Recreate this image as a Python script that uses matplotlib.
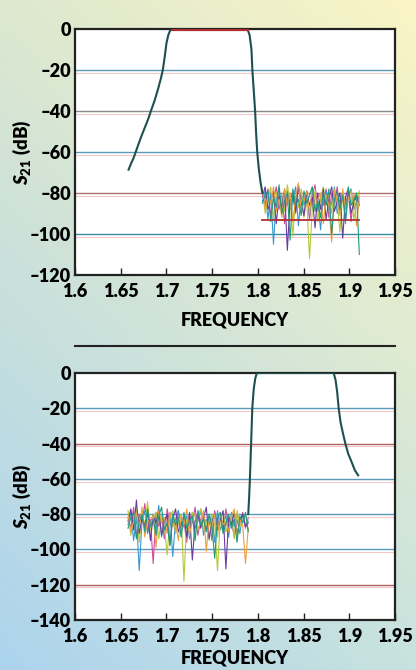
import numpy as np
import matplotlib
matplotlib.use('Agg')
import matplotlib.pyplot as plt
from matplotlib.lines import Line2D

plt.rcParams['font.family'] = ['Lato', 'DejaVu Sans']
plt.rcParams['font.weight'] = 'heavy'
plt.rcParams['mathtext.fontset'] = 'custom'
plt.rcParams['mathtext.rm'] = 'Lato:heavy'
plt.rcParams['mathtext.it'] = 'Lato:heavy:italic'
plt.rcParams['mathtext.bf'] = 'Lato:heavy'

########### data ###########
xticks = [1.6, 1.65, 1.7, 1.75, 1.8, 1.85, 1.9, 1.95]
xtick_labels = ['1.6', '1.65', '1.7', '1.75', '1.8', '1.85', '1.9', '1.95']

# top filter: passband 1.70-1.79 GHz
top_x = [1.6586, 1.661, 1.664, 1.668, 1.672, 1.676, 1.680, 1.683, 1.687, 1.691, 1.694,
         1.696, 1.698, 1.700, 1.702, 1.704, 1.707, 1.72, 1.74, 1.76, 1.78, 1.789,
         1.791, 1.793, 1.794, 1.7955, 1.797, 1.798, 1.7993, 1.801, 1.803, 1.805]
top_y = [-68.6, -66, -63, -58, -53, -48.5, -44, -40, -35, -29, -24,
         -20, -14, -7, -3, -0.8, 0, 0, 0, 0, 0, -0.5,
         -3, -10, -20, -30, -40, -50, -60, -68, -75, -80]
top_noise_span = [1.805, 1.911]
top_floor = -93.3
top_noise = [
    [-80, -86, -78, -91, -83, -77, -88, -81, -95, -79, -85, -82, -90, -77, -87, -84, -79, -93,
     -81, -76, -89, -83, -86, -78, -92, -80, -85, -77, -90, -82, -87, -79, -94, -81, -84, -80],
    [-84, -79, -93, -80, -105, -82, -78, -90, -85, -79, -88, -83, -77, -96, -81, -86, -80, -91,
     -78, -87, -84, -98, -82, -79, -89, -85, -77, -90, -83, -80, -95, -81, -78, -88, -84, -82],
    [-78, -90, -83, -77, -93, -80, -86, -82, -89, -76, -84, -101, -81, -87, -78, -92, -83, -112,
     -88, -79, -94, -82, -77, -86, -81, -90, -78, -84, -99, -80, -87, -82, -79, -93, -85, -79],
    [-82, -77, -88, -84, -79, -95, -81, -87, -78, -108, -83, -80, -89, -76, -85, -91, -79, -86,
     -82, -97, -80, -88, -78, -93, -83, -77, -89, -84, -80, -102, -82, -78, -90, -85, -81, -86],
    [-79, -88, -81, -85, -77, -89, -83, -92, -78, -86, -80, -94, -82, -75, -88, -84, -79, -90,
     -77, -87, -83, -80, -95, -81, -86, -104, -79, -84, -91, -78, -88, -82, -85, -80, -96, -83],
    [-85, -81, -79, -94, -82, -87, -76, -90, -84, -80, -103, -78, -86, -83, -91, -79, -85, -81,
     -77, -89, -84, -92, -80, -86, -78, -100, -83, -79, -88, -81, -93, -77, -86, -84, -80, -110],
]

# bottom filter: passband 1.80-1.885 GHz
bot_x = [1.7895, 1.7905, 1.7913, 1.7925, 1.7939, 1.7955, 1.7972, 1.7986, 1.800, 1.82, 1.84,
         1.86, 1.8829, 1.885, 1.8868, 1.8884, 1.8905, 1.8930, 1.8957, 1.899, 1.903, 1.906, 1.9097]
bot_y = [-80, -70, -60, -42, -20, -9, -3, -0.5, 0, 0, 0,
         0, 0, -4, -11, -20, -28, -34, -40, -46, -51, -55, -58]
bot_noise_span = [1.658, 1.7895]
bot_noise = [
    [-82, -88, -76, -93, -80, -85, -74, -90, -83, -108, -79, -87, -81, -94, -77, -86, -82, -91, -78, -88, -84, -96,
     -80, -85, -76, -92, -83, -79, -89, -81, -95, -78, -86, -82, -90, -77, -87, -84, -93, -80, -85, -79, -88, -82],
    [-86, -79, -95, -81, -112, -84, -78, -91, -85, -80, -89, -75, -93, -82, -87, -79, -104, -83, -78, -90, -86, -81,
     -94, -79, -88, -84, -77, -92, -83, -86, -80, -96, -78, -89, -85, -81, -93, -79, -87, -83, -91, -80, -86, -84],
    [-78, -92, -83, -77, -96, -80, -86, -73, -89, -84, -79, -94, -81, -87, -103, -82, -78, -91, -85, -80, -118, -83,
     -88, -79, -93, -82, -77, -89, -84, -95, -80, -86, -112, -83, -79, -90, -85, -81, -94, -78, -87, -83, -80, -89],
    [-84, -77, -89, -72, -91, -82, -87, -79, -95, -81, -85, -78, -92, -84, -80, -97, -83, -77, -90, -86, -81, -93,
     -79, -106, -84, -80, -88, -82, -76, -94, -85, -80, -89, -83, -78, -111, -82, -86, -79, -91, -84, -80, -87, -85],
    [-80, -90, -84, -79, -88, -76, -93, -83, -86, -80, -99, -78, -85, -82, -91, -79, -87, -84, -95, -81, -86, -77,
     -92, -83, -80, -89, -84, -78, -101, -82, -87, -80, -93, -79, -86, -84, -90, -81, -77, -94, -83, -86, -108, -88],
    [-88, -82, -79, -94, -84, -80, -90, -77, -87, -83, -92, -81, -76, -89, -85, -98, -80, -86, -82, -93, -79, -88,
     -84, -81, -95, -78, -86, -83, -90, -80, -87, -105, -82, -79, -91, -85, -80, -88, -83, -96, -81, -85, -79, -90],
]

noise_colors = ['#d04a9a', '#3a98d0', '#b5c83a', '#6a3aa0', '#e8a040', '#1f9a80']

########### figure ###########
fig = plt.figure(figsize=(4.16, 6.70), dpi=100)

# gradient background
bg = fig.add_axes([0, 0, 1, 1], zorder=-5)
tl = np.array([221, 232, 207]) / 255
tr = np.array([250, 245, 197]) / 255
bl = np.array([172, 212, 238]) / 255
br = np.array([200, 226, 222]) / 255
u = np.linspace(0, 1, 200)[None, :, None]
v = np.linspace(0, 1, 300)[:, None, None]
img = (1 - v) * ((1 - u) * tl + u * tr) + v * ((1 - u) * bl + u * br)
bg.imshow(img, aspect='auto', extent=[0, 1, 0, 1])
bg.axis('off')


def setup(ax, ylim, yticks, grid_colors, xpad):
    ax.set_facecolor('white')
    ax.set_xlim(1.6, 1.95)
    ax.set_ylim(ylim, 0)
    for yv, c in zip(yticks[1:-1], grid_colors):
        ax.axhline(yv - 1.5, color='#f4c8c8', lw=0.8, zorder=1)
        ax.axhline(yv, color=c, lw=1.0, zorder=1)
    ax.set_xticks(xticks)
    ax.set_xticklabels(xtick_labels, fontsize=13, fontweight='heavy')
    ax.set_yticks(yticks)
    ax.set_yticklabels([str(t).replace('-', '\u2012') for t in yticks], fontsize=13, fontweight='heavy')
    ax.tick_params(axis='x', direction='in', length=5, width=1, pad=6, color='#222222')
    ax.tick_params(axis='y', length=0, pad=3)
    for s in ax.spines.values():
        s.set_linewidth(1.6)
        s.set_color('#222222')
    ax.set_xlabel('FREQUENCY', fontsize=13, fontweight='heavy', labelpad=xpad)
    ax.set_ylabel(r'$S_{21}$ (dB)', fontsize=13.5, fontweight='heavy')
    ax.yaxis.set_label_coords(-0.13, 0.5)


##### top #####
ax1 = fig.add_axes([0.1803, 0.5896, 0.7692, 0.3671])
setup(ax1, -120, [0, -20, -40, -60, -80, -100, -120],
      ['#5a9ab8', '#8a8a8a', '#5a9ab8', '#b07070', '#3a8aa0'], 8)
for tr_, c in zip(top_noise, noise_colors):
    xs = np.linspace(top_noise_span[0], top_noise_span[1], len(tr_))
    ax1.plot(xs, tr_, color=c, lw=0.8, zorder=3)
ax1.plot(top_noise_span, [top_floor, top_floor], color='#b03030', lw=1.3, zorder=4)
ax1.plot(top_x, top_y, color='#1e5050', lw=1.5, zorder=5)
ax1.plot([1.707, 1.789], [-0.6, -0.6], color='#b03030', lw=1.6, zorder=6)

##### separator #####
fig.add_artist(Line2D([0.1803, 0.9495], [0.4836, 0.4836], color='#222222', lw=1.5))

##### bottom #####
ax2 = fig.add_axes([0.1803, 0.0746, 0.7692, 0.3687])
setup(ax2, -140, [0, -20, -40, -60, -80, -100, -120, -140],
      ['#5a9ab8', '#b06060', '#5a9ab8', '#5a9ab8', '#5a9ab8', '#b06060'], 3)
for tr_, c in zip(bot_noise, noise_colors):
    xs = np.linspace(bot_noise_span[0], bot_noise_span[1], len(tr_))
    ax2.plot(xs, tr_, color=c, lw=0.8, zorder=3)
ax2.plot(bot_x, bot_y, color='#1e5050', lw=1.5, zorder=5)

fig.savefig('out.png', dpi=100)
